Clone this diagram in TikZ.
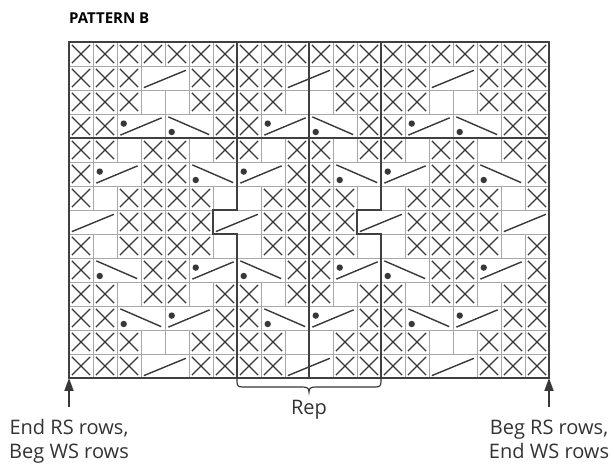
\documentclass[tikz,border=0pt]{standalone}
\usepackage{fontspec}
\setmainfont{Open Sans}
\usetikzlibrary{arrows.meta}
\definecolor{ink}{HTML}{383838}
\definecolor{gridc}{HTML}{A8A8A8}
\definecolor{thickc}{HTML}{404040}
\definecolor{txt}{HTML}{333333}
\tikzset{
  gridline/.style={draw=gridc, line width=0.8pt},
  xline/.style={draw=ink, line width=1.3pt},
  cableline/.style={draw=ink, line width=1.4pt},
  thickline/.style={draw=thickc, line width=2.2pt, line join=miter},
  arrowline/.style={draw=ink, line width=1.8pt, -{Triangle[length=13pt,width=9pt]}},
  bracestyle/.style={draw=ink, line width=1.2pt},
  labeltext/.style={text=txt, font=\fontsize{20}{24}\selectfont, inner sep=0pt},
}
\newcommand\kcX[2]{\begin{scope}[shift={(#1,#2)}]
  \draw[gridline] (0,0) rectangle (1,1);
  \draw[xline] (0.12,0.12)--(0.88,0.88) (0.12,0.88)--(0.88,0.12);
\end{scope}}
\newcommand\kcB[2]{\begin{scope}[shift={(#1,#2)}]
  \draw[gridline] (0,0) rectangle (1,1);
\end{scope}}
\newcommand\kcS[2]{\begin{scope}[shift={(#1,#2)}]
  \draw[gridline] (0,0) rectangle (2,1);
  \draw[cableline] (0.12,0.9)--(1.87,0.18);
\end{scope}}
\newcommand\kcU[2]{\begin{scope}[shift={(#1,#2)}]
  \draw[gridline] (0,0) rectangle (2,1);
  \draw[cableline] (0.14,0.88)--(1.86,0.16);
  \fill[ink] (0.28,0.4) circle[radius=3.2pt];
\end{scope}}
\newcommand\kcD[2]{\begin{scope}[shift={(#1,#2)}]
  \draw[gridline] (0,0) rectangle (2,1);
  \draw[cableline] (0.14,0.12)--(1.84,0.86);
  \fill[ink] (0.28,0.75) circle[radius=3.2pt];
\end{scope}}
\newcommand\kcN[2]{}
\begin{document}
\begin{tikzpicture}[x=1pt,y=-1pt]
\useasboundingbox (0,0) rectangle (614,465);
\fill[white] (0,0) rectangle (614,465);

\node[anchor=base west, inner sep=0pt, text=black, font=\bfseries\fontsize{15}{18}\selectfont] (title) at (69,24) {PATTERN B};

\begin{scope}[shift={(69,42)}, x=24pt, y=-24pt]
  \foreach \rowspec [count=\r from 0] in {%
    {X,X,X,X,X,X,X,X,X,X,X,X,X,X,X,X,X,X,X,X},%
    {X,X,X,S,N,X,X,X,X,S,N,X,X,X,X,S,N,X,X,X},%
    {X,X,X,B,B,X,X,X,X,B,B,X,X,X,X,B,B,X,X,X},%
    {X,X,U,N,D,N,X,X,U,N,D,N,X,X,U,N,D,N,X,X},%
    {X,X,B,X,X,B,X,X,B,X,X,B,X,X,B,X,X,B,X,X},%
    {X,U,N,X,X,D,N,U,N,X,X,D,N,U,N,X,X,D,N,X},%
    {X,B,X,X,X,X,B,B,X,X,X,X,B,B,X,X,X,X,B,X},%
    {S,N,X,X,X,X,S,N,X,X,X,X,S,N,X,X,X,X,S,N},%
    {X,B,X,X,X,X,B,B,X,X,X,X,B,B,X,X,X,X,B,X},%
    {X,D,N,X,X,U,N,D,N,X,X,U,N,D,N,X,X,U,N,X},%
    {X,X,B,X,X,B,X,X,B,X,X,B,X,X,B,X,X,B,X,X},%
    {X,X,D,N,U,N,X,X,D,N,U,N,X,X,D,N,U,N,X,X},%
    {X,X,X,B,B,X,X,X,X,B,B,X,X,X,X,B,B,X,X,X},%
    {X,X,X,S,N,X,X,X,X,S,N,X,X,X,X,S,N,X,X,X}%
  }{%
    \foreach \s [count=\c from 0] in \rowspec {%
      \csname kc\s\endcsname{\c}{\r}%
    }%
  }
  % thick lines
  \draw[thickline] (0,4) -- (20,4);
  \draw[thickline] (10,0) -- (10,14);
  \draw[thickline] (7,0) -- (7,7) -- (6,7) -- (6,8) -- (7,8) -- (7,14);
  \draw[thickline] (13,0) -- (13,7) -- (12,7) -- (12,8) -- (13,8) -- (13,14);
  \draw[thickline] (0,0) rectangle (20,14);
  \coordinate (gl) at (0,14);
  \coordinate (gr) at (20,14);
  \coordinate (bl) at (7,14);
  \coordinate (br) at (13,14);
\end{scope}

% arrows
\coordinate (alend) at (69,407);
\coordinate (arend) at (549,407);
\draw[arrowline] (alend) -- (gl);
\draw[arrowline] (arend) -- (gr);

% brace
\draw[bracestyle] (bl) -- ++(0,3) .. controls +(0,5) and +(-5,0) .. ++(6,6) -- ++(59,0)
  .. controls +(5,0) and +(0,-4) .. ++(7,5)
  .. controls +(0,-4) and +(-5,0) .. ++(7,-5) -- ++(59,0)
  .. controls +(5,0) and +(0,5) .. ++(6,-6) -- (br);

% labels
\node[labeltext, anchor=base] (rep) at (309,415) {Rep};
\node[labeltext, anchor=base] (l1) at (69,435) {End RS rows,};
\node[labeltext, anchor=base] (l2) at (69,459) {Beg WS rows};
\node[labeltext, anchor=base] (r1) at (549,435) {Beg RS rows,};
\node[labeltext, anchor=base] (r2) at (549,459) {End WS rows};
\end{tikzpicture}
\end{document}
